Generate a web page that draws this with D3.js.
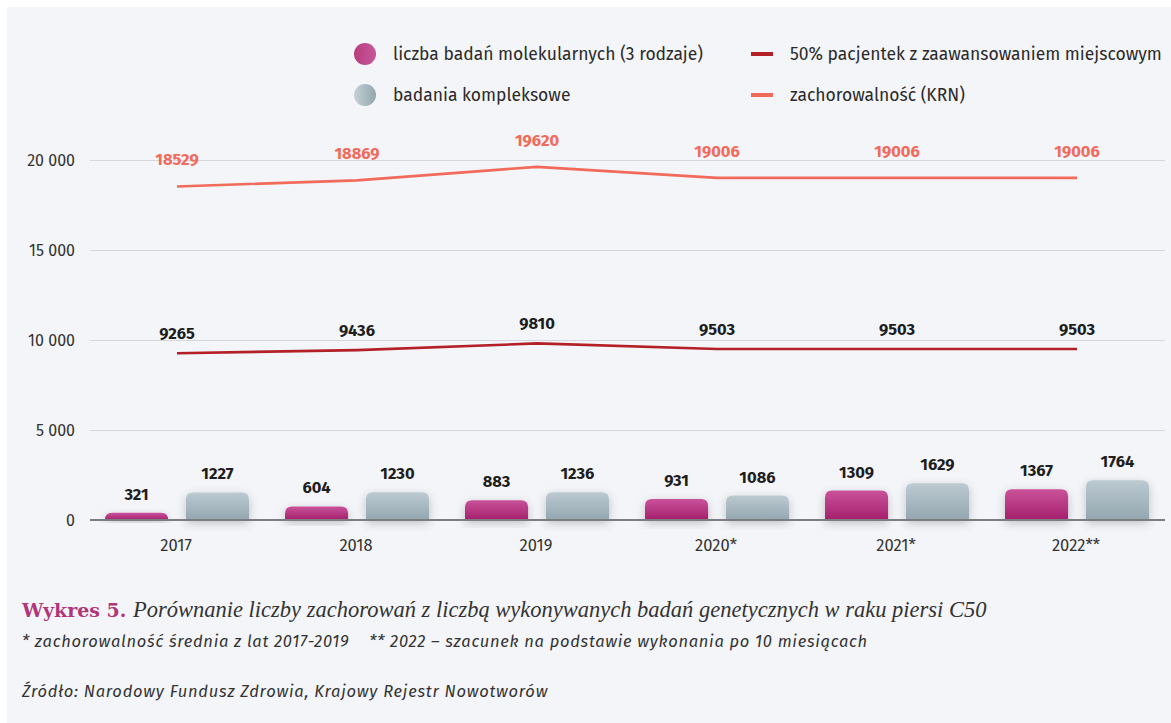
<!DOCTYPE html>
<html>
<head>
<meta charset="utf-8">
<script src="https://cdn.jsdelivr.net/npm/d3@7"></script>
<style>
  html, body { margin: 0; padding: 0; background: #ffffff; }
  svg { display: block; }
</style>
</head>
<body>
<div id="container"></div>
<script>
const years = ["2017", "2018", "2019", "2020*", "2021*", "2022**"];
const molecular = [321, 604, 883, 931, 1309, 1367];
const complex = [1227, 1230, 1236, 1086, 1629, 1764];
const advanced = [9265, 9436, 9810, 9503, 9503, 9503];
const incidence = [18529, 18869, 19620, 19006, 19006, 19006];
const yTicks = [0, 5000, 10000, 15000, 20000];

const dimensions = {
	width: 1171,
	height: 723,
	margin: { left: 86, right: 5, top: 160, bottom: 203 }
}

const svg = d3.select("#container")
	.append("svg")
	.attr("width", dimensions.width)
	.attr("height", dimensions.height)
	.style("font-family", "'Fira Sans', 'Open Sans', sans-serif")

// card background
svg.append("rect")
	.attr("x", 7).attr("y", 7)
	.attr("width", dimensions.width - 7)
	.attr("height", dimensions.height - 7)
	.attr("fill", "#f4f5f9")

const defs = svg.append("defs")
const grad = (id, top, bottom) => {
	const g = defs.append("linearGradient").attr("id", id)
		.attr("x1", 0).attr("y1", 0).attr("x2", 0).attr("y2", 1)
	g.append("stop").attr("offset", "0%").attr("stop-color", top)
	g.append("stop").attr("offset", "100%").attr("stop-color", bottom)
}
grad("gPink", "#c9539a", "#a51f6c")
grad("gGray", "#bccad1", "#93a6af")
const hgrad = (id, a, b) => {
	const g = defs.append("linearGradient").attr("id", id)
		.attr("x1", 0).attr("y1", 0).attr("x2", 1).attr("y2", 0)
	g.append("stop").attr("offset", "0%").attr("stop-color", a)
	g.append("stop").attr("offset", "100%").attr("stop-color", b)
}
hgrad("lPink", "#b73e80", "#c8579a")
hgrad("lGray", "#c4d0d6", "#93a6af")

const shadow = defs.append("filter").attr("id", "shadow")
	.attr("x", "-30%").attr("y", "-40%").attr("width", "160%").attr("height", "180%")
shadow.append("feDropShadow")
	.attr("dx", 0).attr("dy", 3).attr("stdDeviation", 5)
	.attr("flood-color", "#000").attr("flood-opacity", 0.22)

const x = d3.scaleBand()
	.domain(years)
	.range([dimensions.margin.left, dimensions.width - dimensions.margin.right])

const x1 = d3.scaleBand()
	.domain(["mol", "kom"])
	.range([19, 163])
	.paddingInner(0.22)

const y = d3.scaleLinear()
	.domain([0, 20000])
	.range([dimensions.height - dimensions.margin.bottom, dimensions.margin.top])

// bars are drawn a little taller in the original
const yBar = d3.scaleLinear()
	.domain([0, 16000])
	.range([dimensions.height - dimensions.margin.bottom, dimensions.margin.top])

// grid + y axis
const yAxis = svg.append("g")
	.attr("transform", `translate(90,0)`)
	.call(d3.axisLeft(y).tickValues(yTicks).tickSize(-1075)
		.tickFormat(d => d3.format(",")(d).replace(/,/g, " ")))
yAxis.select(".domain").remove()
yAxis.selectAll(".tick line").attr("stroke", "#d6d7dc").attr("stroke-width", 1.2)
yAxis.selectAll(".tick text")
	.attr("x", -15)
	.attr("font-size", 16)
	.attr("fill", "#333")
	.style("font-family", "'Fira Sans', 'Open Sans', sans-serif")

// bars
const barPath = (x0, w, y0, y1, r) => {
	r = Math.min(r, (y1 - y0))
	return `M${x0},${y1}V${y0 + r}Q${x0},${y0} ${x0 + r},${y0}H${x0 + w - r}Q${x0 + w},${y0} ${x0 + w},${y0 + r}V${y1}Z`
}

const groups = svg.append("g").selectAll("g")
	.data(years)
	.join("g")
	.attr("transform", d => `translate(${x(d)},0)`)

const series = [
	{ key: "mol", values: molecular, fill: "url(#gPink)" },
	{ key: "kom", values: complex, fill: "url(#gGray)" }
]

series.forEach(s => {
	groups.append("path")
		.attr("d", (d, i) => barPath(x1(s.key), x1.bandwidth(), yBar(s.values[i]), yBar(0), 7))
		.attr("fill", s.fill)
		.attr("filter", "url(#shadow)")
	groups.append("text")
		.attr("x", x1(s.key) + x1.bandwidth() / 2)
		.attr("y", (d, i) => yBar(s.values[i]) - 13)
		.attr("text-anchor", "middle")
		.attr("font-size", 16.5)
		.attr("font-weight", "bold")
		.attr("fill", "#1e1e1e")
		.text((d, i) => s.values[i])
})

// baseline
svg.append("line")
	.attr("x1", 90).attr("x2", 1165)
	.attr("y1", y(0)).attr("y2", y(0))
	.attr("stroke", "#7b7d80").attr("stroke-width", 2.2)

// x labels
svg.append("g").selectAll("text")
	.data(years)
	.join("text")
	.attr("x", d => x(d) + x.bandwidth() / 2)
	.attr("y", 551)
	.attr("text-anchor", "middle")
	.attr("font-size", 16.5)
	.attr("fill", "#333")
	.text(d => d)

// lines
const cx = d => x(d) + x.bandwidth() / 2 + 1
const lineGen = values => d3.line()
	.x((d, i) => cx(years[i]))
	.y(d => y(d))(values)

const lineSeries = [
	{ values: incidence, color: "#f26a5a", labelColor: "#f26a5a", offset: 21 },
	{ values: advanced, color: "#b32027", labelColor: "#1e1e1e", offset: 14 }
]

lineSeries.forEach(s => {
	svg.append("path")
		.attr("d", lineGen(s.values))
		.attr("fill", "none")
		.attr("stroke", s.color)
		.attr("stroke-width", 2.6)
	svg.append("g").selectAll("text")
		.data(s.values)
		.join("text")
		.attr("x", (d, i) => cx(years[i]))
		.attr("y", d => y(d) - s.offset)
		.attr("text-anchor", "middle")
		.attr("font-size", 16.5)
		.attr("font-weight", "bold")
		.attr("fill", s.labelColor)
		.text(d => d)
})

// legend
const legend = svg.append("g")
legend.append("circle").attr("cx", 365).attr("cy", 54).attr("r", 11).attr("fill", "url(#lPink)")
legend.append("circle").attr("cx", 365).attr("cy", 95).attr("r", 11).attr("fill", "url(#lGray)")
legend.append("line").attr("x1", 751).attr("x2", 773).attr("y1", 54).attr("y2", 54)
	.attr("stroke", "#b32027").attr("stroke-width", 4)
legend.append("line").attr("x1", 751).attr("x2", 773).attr("y1", 95).attr("y2", 95)
	.attr("stroke", "#f26a5a").attr("stroke-width", 4)
const legendText = [
	{ x: 393, y: 60, t: "liczba badań molekularnych (3 rodzaje)" },
	{ x: 393, y: 101, t: "badania kompleksowe" },
	{ x: 790, y: 60, t: "50% pacjentek z zaawansowaniem miejscowym" },
	{ x: 790, y: 101, t: "zachorowalność (KRN)" }
]
legend.selectAll("text")
	.data(legendText)
	.join("text")
	.attr("x", d => d.x).attr("y", d => d.y)
	.attr("font-size", 17.5)
	.attr("fill", "#2b2b2b")
	.text(d => d.t)

// caption
const caption = svg.append("text")
	.attr("x", 22).attr("y", 617)
	.attr("font-size", 22.5)
	.attr("fill", "#333")
	.style("font-family", "'Liberation Serif', serif")
caption.append("tspan")
	.attr("font-weight", "bold")
	.attr("fill", "#b0367a")
	.style("font-family", "'DejaVu Serif', serif")
	.attr("font-size", 19)
	.text("Wykres 5. ")
caption.append("tspan")
	.attr("font-style", "italic")
	.text("Porównanie liczby zachorowań z liczbą wykonywanych badań genetycznych w raku piersi C50")

svg.append("text")
	.attr("x", 22).attr("y", 647)
	.attr("font-size", 16.5)
	.attr("font-style", "italic")
	.attr("letter-spacing", 0.72)
	.attr("fill", "#333")
	.attr("xml:space", "preserve")
	.text("* zachorowalność średnia z lat 2017-2019    ** 2022 – szacunek na podstawie wykonania po 10 miesiącach")

svg.append("text")
	.attr("x", 22).attr("y", 697)
	.attr("font-size", 16.5)
	.attr("font-style", "italic")
	.attr("letter-spacing", 0.75)
	.attr("fill", "#333")
	.text("Źródło: Narodowy Fundusz Zdrowia, Krajowy Rejestr Nowotworów")
</script>
</body>
</html>
